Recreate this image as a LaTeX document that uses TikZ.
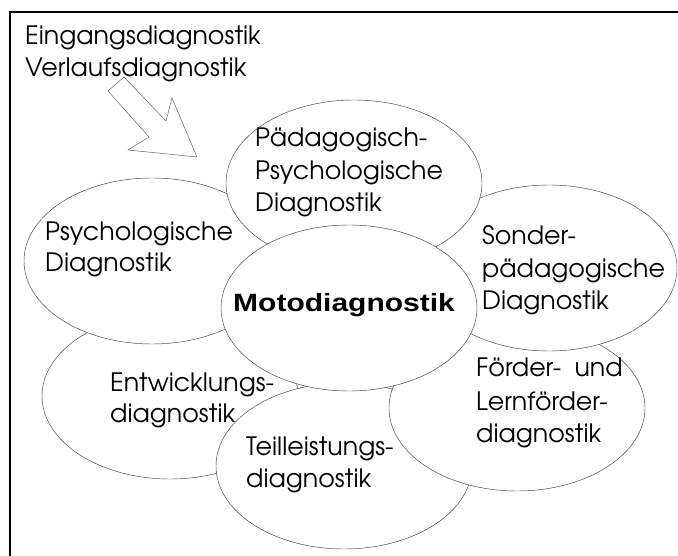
\documentclass[tikz,border=0pt]{standalone}
\usepackage{fontspec}
\setmainfont{TeX Gyre Adventor}
\newfontfamily\headfont{Liberation Sans}
\usetikzlibrary{shapes.geometric}

\begin{document}
\begin{tikzpicture}[x=1pt,y=-1pt,
  blob/.style={ellipse, draw=black!75, line width=0.45pt, fill=white,
    minimum width=256pt, minimum height=166pt, inner sep=0pt},
  txt/.style={anchor=base west, inner sep=0pt, font=\fontsize{25.3}{30}\selectfont},
  head/.style={anchor=base west, inner sep=0pt, font=\headfont\bfseries\fontsize{25}{30}\selectfont},
  frameline/.style={line width=2pt, line cap=rect},
  bigarrow/.style={draw=black!60, line width=0.5pt, fill=white, line join=miter}]
\useasboundingbox (0,0) rectangle (678,556);

% outer frame (only top and left edges fall inside the page)
\coordinate (fTL) at (10,12);
\coordinate (fTR) at (680,12);
\coordinate (fBL) at (10,558);
\draw[frameline] (fTR) -- (fTL) -- (fBL);

% hollow block arrow pointing into the cluster
\coordinate (a1) at (124,77);
\coordinate (a2) at (166,121);
\coordinate (a3) at (172,98);
\coordinate (a4) at (197,157);
\coordinate (a5) at (128,150);
\coordinate (a6) at (149,137);
\coordinate (a7) at (108,91);
\draw[bigarrow] (a1) -- (a2) -- (a3) -- (a4) -- (a5) -- (a6) -- (a7) -- cycle;

% ellipses, back to front
\node[blob] (entw)  at (170,396) {};
\node[blob] (teil)  at (344,466) {};
\node[blob] (foerd) at (517,408) {};
\node[blob] (sond)  at (549,268) {};
\node[blob] (psych) at (152,261) {};
\node[blob] (paed)  at (354,183) {};
\node[blob] (moto)  at (349,308) {};

% labels
\node[txt] (t1) at (25,45) {Eingangsdiagnostik};
\node[txt] (t2) at (25,77) {Verlaufsdiagnostik};

\node[txt] (p1) at (255,147) {Pädagogisch-};
\node[txt] (p2) at (255,180) {Psychologische};
\node[txt] (p3) at (255,212) {Diagnostik};

\node[txt] (s1) at (45,241) {Psychologische};
\node[txt] (s2) at (45,272) {Diagnostik};

\node[txt] (d1) at (482,245) {Sonder-};
\node[txt] (d2) at (482,278) {pädagogische};
\node[txt] (d3) at (482,310) {Diagnostik};

\node[txt] (f1) at (476,377) {Förder-\hspace{0.25em} und};
\node[txt] (f2) at (476,410) {Lernförder-};
\node[txt] (f3) at (476,442) {diagnostik};

\node[txt] (e1) at (110,391) {Entwicklungs-};
\node[txt] (e2) at (110,422) {diagnostik};

\node[txt] (l1) at (246,455) {Teilleistungs-};
\node[txt] (l2) at (246,487) {diagnostik};

\node[head] (m1) at (233,312) {\scalebox{1.2}[1]{Motodiagnostik}};
\end{tikzpicture}
\end{document}
